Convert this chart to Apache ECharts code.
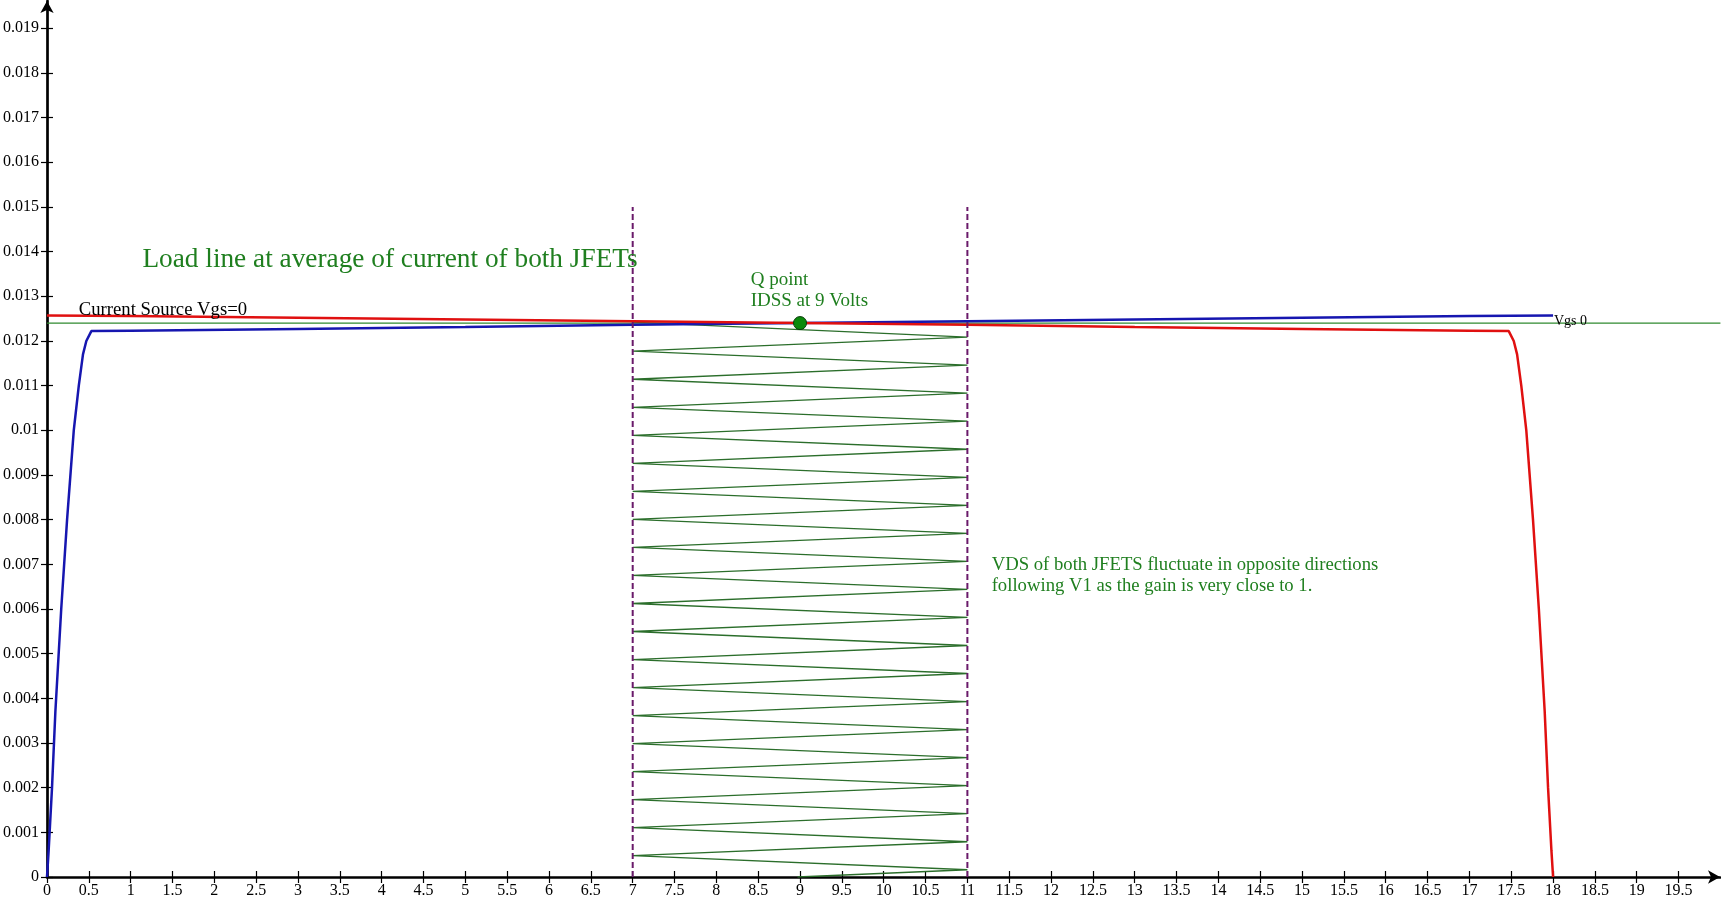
<!DOCTYPE html>
<html>
<head>
<meta charset="utf-8">
<script src="https://cdn.jsdelivr.net/npm/echarts@6/dist/echarts.min.js"></script>
<style>
html,body{margin:0;padding:0;background:#fff;}
#chart{width:1721px;height:900px;}
</style>
</head>
<body>
<div id="chart"></div>
<script>
// ---- tick labels ----
const xTicks = [0,0.5,1,1.5,2,2.5,3,3.5,4,4.5,5,5.5,6,6.5,7,7.5,8,8.5,9,9.5,10,10.5,11,11.5,12,12.5,13,13.5,14,14.5,15,15.5,16,16.5,17,17.5,18,18.5,19,19.5];
const yTicks = [0,0.001,0.002,0.003,0.004,0.005,0.006,0.007,0.008,0.009,0.01,0.011,0.012,0.013,0.014,0.015,0.016,0.017,0.018,0.019];

// ---- JFET 1 (blue) ----
const blueV = [0, 0.02, 0.06, 0.1, 0.17, 0.24, 0.32, 0.38, 0.43, 0.47, 0.53, 1, 3, 5, 7, 9, 11, 13, 15, 17, 18];
const blueI = [0, 0.0006, 0.002, 0.0037, 0.006, 0.008, 0.01, 0.011, 0.0117, 0.012, 0.01222, 0.01223, 0.01227, 0.01231, 0.01236, 0.0124, 0.01244, 0.01248, 0.01252, 0.01256, 0.01257];

// ---- Current source Vgs=0 (red) ----
const redV = [0, 1, 3, 5, 7, 9, 11, 13, 15, 17, 17.47, 17.53, 17.57, 17.62, 17.68, 17.76, 17.83, 17.9, 17.94, 17.98, 18];
const redI = [0.01257, 0.01256, 0.01252, 0.01248, 0.01244, 0.0124, 0.01236, 0.01231, 0.01227, 0.01223, 0.01222, 0.012, 0.0117, 0.011, 0.01, 0.008, 0.006, 0.0037, 0.002, 0.0006, 0];

// ---- Load line (average current) ----
const loadV = [0, 20];
const loadI = [0.0124, 0.0124];

// ---- Signal swing trace (zig-zag between 7 V and 11 V) ----
const swingV = [7, 11, 7, 11, 7, 11, 7, 11, 7, 11, 7, 11, 7, 11, 7, 11, 7, 11, 7, 11, 7, 11, 7, 11, 7, 11, 7, 11, 7, 11, 7, 11, 7, 11, 7, 11, 7, 11, 7, 11, 8.97];
const swingI = [0.01242, 0.012086, 0.01177, 0.011458, 0.011143, 0.010831, 0.010515, 0.010203, 0.009888, 0.009576, 0.00926, 0.008948, 0.008633, 0.00832, 0.008006, 0.007693, 0.007378, 0.007065, 0.006751, 0.006438, 0.006123, 0.00581, 0.005496, 0.005182, 0.004868, 0.004555, 0.004241, 0.003927, 0.003614, 0.0033, 0.002986, 0.002672, 0.002359, 0.002044, 0.001732, 0.001417, 0.001104, 0.000789, 0.000477, 0.000162, 0];

// ---- swing limits and Q point ----
const limitV = [7, 11];
const limitTop = 0.015;
const qPoint = [9, 0.0124];

// ---- annotations (anchored in data coordinates) ----
const notes = [
  {text: 'Load line at average of current of both JFETs', v: 1.14, i: 0.013815, size: 27.3, color: '#1f7f1f'},
  {text: 'Current Source Vgs=0', v: 0.38, i: 0.012685, size: 18.7, color: '#000000'},
  {text: 'Q point', v: 8.41, i: 0.01337, size: 19, color: '#1f7f1f'},
  {text: 'IDSS at 9 Volts', v: 8.41, i: 0.0129, size: 19, color: '#1f7f1f'},
  {text: 'Vgs 0', v: 18.01, i: 0.01245, size: 14, color: '#000000'},
  {text: 'VDS of both JFETS fluctuate in opposite directions', v: 11.29, i: 0.006975, size: 18.7, color: '#1f7f1f'},
  {text: 'following V1 as the gain is very close to 1.', v: 11.29, i: 0.00651, size: 18.7, color: '#1f7f1f'}
];

const zip = (a, b) => a.map((x, k) => [x, b[k]]);
const FONT = '"Liberation Serif", "Times New Roman", serif';
const XMAX = 19.995, YMAX = 0.01961;
const fmt = v => String(parseFloat(Number(v).toFixed(6)));

const chart = echarts.init(document.getElementById('chart'), null, {renderer: 'canvas'});

const option = {
  animation: false,
  backgroundColor: '#ffffff',
  grid: {left: 43, right: 1, top: 1, bottom: 23, containLabel: false},
  xAxis: [
    {
      type: 'value', min: 0, max: XMAX, interval: 0.5, position: 'bottom',
      axisLine: {show: true, onZero: false, symbol: ['none', 'arrow'], symbolSize: [10, 12], lineStyle: {color: '#000', width: 2.7}},
      axisTick: {show: true, inside: false, length: 6, lineStyle: {color: '#000', width: 1.2}, customValues: xTicks},
      axisLabel: {show: true, margin: 6, fontFamily: FONT, fontSize: 16, color: '#000', customValues: xTicks, formatter: fmt, hideOverlap: false},
      splitLine: {show: false}
    },
    {
      type: 'value', min: 0, max: XMAX, interval: 0.5, position: 'bottom',
      axisLine: {show: false, onZero: false},
      axisTick: {show: true, inside: true, length: 6, lineStyle: {color: '#000', width: 1.2}, customValues: xTicks},
      axisLabel: {show: false},
      splitLine: {show: false}
    }
  ],
  yAxis: [
    {
      type: 'value', min: 0, max: YMAX, interval: 0.001, position: 'left',
      axisLine: {show: true, onZero: false, symbol: ['none', 'arrow'], symbolSize: [10, 12], lineStyle: {color: '#000', width: 2.7}},
      axisTick: {show: true, inside: false, length: 6, lineStyle: {color: '#000', width: 1.2}, customValues: yTicks},
      axisLabel: {show: true, margin: 8, fontFamily: FONT, fontSize: 16, color: '#000', customValues: yTicks, formatter: fmt, hideOverlap: false},
      splitLine: {show: false}
    },
    {
      type: 'value', min: 0, max: YMAX, interval: 0.001, position: 'left',
      axisLine: {show: false, onZero: false},
      axisTick: {show: true, inside: true, length: 6, lineStyle: {color: '#000', width: 1.2}, customValues: yTicks},
      axisLabel: {show: false},
      splitLine: {show: false}
    }
  ],
  series: [
    {
      name: 'swing', type: 'line', data: zip(swingV, swingI), showSymbol: false, z: 2,
      lineStyle: {color: '#2b6e2b', width: 1.3}
    },
    {
      name: 'load', type: 'line', data: zip(loadV, loadI), showSymbol: false, clip: false, z: 3,
      lineStyle: {color: '#2f8a2f', width: 1.2}
    },
    {
      name: 'blue', type: 'line', data: zip(blueV, blueI), showSymbol: false, z: 4,
      lineStyle: {color: '#1616b0', width: 2.5}
    },
    {
      name: 'red', type: 'line', data: zip(redV, redI), showSymbol: false, z: 5,
      lineStyle: {color: '#e01010', width: 2.5}
    },
    {
      name: 'limitL', type: 'line', data: [[limitV[0], 0], [limitV[0], limitTop]], showSymbol: false, z: 6,
      lineStyle: {color: '#6a1a6a', width: 2, type: [6, 3]}
    },
    {
      name: 'limitR', type: 'line', data: [[limitV[1], 0], [limitV[1], limitTop]], showSymbol: false, z: 6,
      lineStyle: {color: '#6a1a6a', width: 2, type: [6, 3]}
    },
    {
      name: 'Q', type: 'scatter', data: [qPoint], symbol: 'circle', symbolSize: 13, z: 10,
      itemStyle: {color: '#0b8a0b', borderColor: '#0a3a0a', borderWidth: 1, opacity: 1}
    }
  ]
};
chart.setOption(option);

const graphic = notes.map(n => {
  const p = chart.convertToPixel({gridIndex: 0}, [n.v, n.i]);
  return {
    type: 'text', x: p[0], y: p[1], z: 20,
    style: {text: n.text, fill: n.color, font: n.size + 'px ' + FONT, align: 'left', verticalAlign: 'middle'}
  };
});
chart.setOption({graphic: graphic});
</script>
</body>
</html>
